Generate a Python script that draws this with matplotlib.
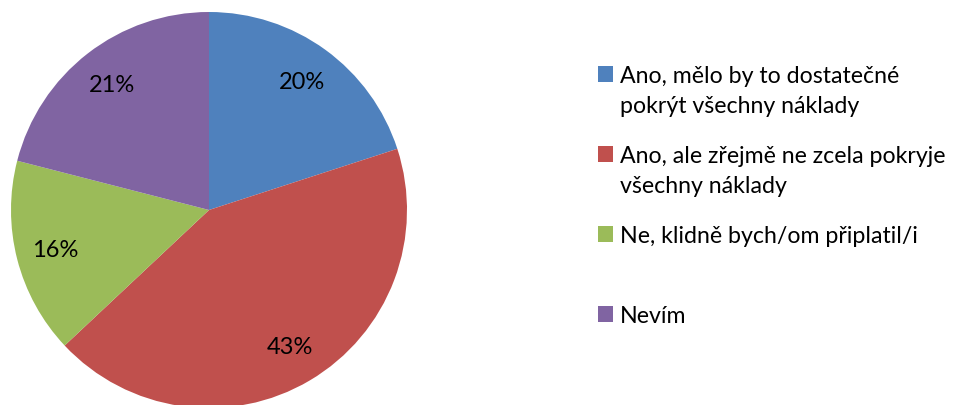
import matplotlib.pyplot as plt
from matplotlib.patches import Rectangle

W, H = 971, 406
labels = ['Ano, mělo by to dostatečné\npokrýt všechny náklady',
          'Ano, ale zřejmě ne zcela pokryje\nvšechny náklady',
          'Ne, klidně bych/om připlatil/i',
          'Nevím']
values = [20, 43, 16, 21]
colors = ['#4F81BD', '#C0504D', '#9BBB59', '#8064A2']

plt.rcParams['font.family'] = ['Lato', 'DejaVu Sans']

fig = plt.figure(figsize=(W / 100, H / 100), dpi=100)

# pie axes: center (209, 211) px from top-left, radius 198 px
cx, cy, r = 209, 211, 198
ax = fig.add_axes([(cx - r) / W, (H - cy - r) / H, 2 * r / W, 2 * r / H])
ax.pie(values, colors=colors, startangle=90, counterclock=False,
       autopct='%d%%', pctdistance=0.8, radius=1,
       wedgeprops=dict(linewidth=0),
       textprops=dict(fontsize=17, color='black'))
ax.set_xlim(-1, 1)
ax.set_ylim(-1, 1)
ax.set_aspect('equal')
ax.axis('off')

# legend, drawn by hand so each entry has the same slot height
first_base = 83
slot = 80
line_h = 30
for i, (lab, col) in enumerate(zip(labels, colors)):
    base = first_base + i * slot
    fig.patches.append(Rectangle((598 / W, (H - base) / H), 15 / W, 16 / H,
                                 transform=fig.transFigure, facecolor=col,
                                 edgecolor='none'))
    for j, line in enumerate(lab.split('\n')):
        fig.text(620 / W, (H - base - j * line_h) / H, line, fontsize=16.7,
                 va='baseline', ha='left', color='black')

fig.savefig('out.png', dpi=100)
